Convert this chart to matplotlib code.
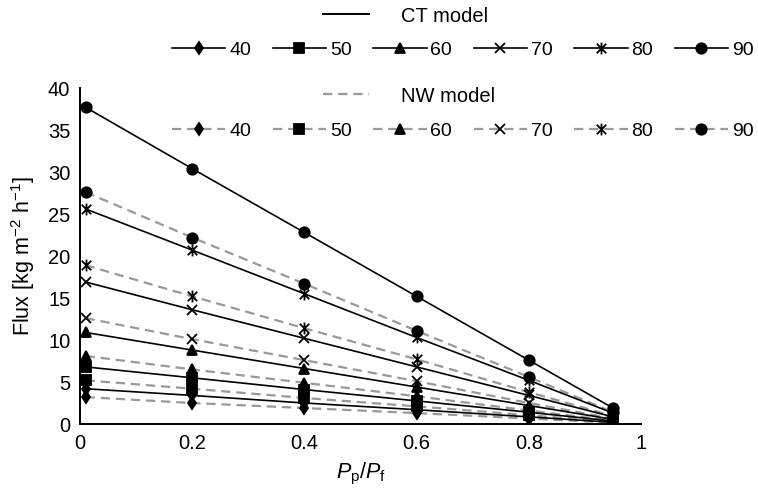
import matplotlib
matplotlib.use("Agg")
import matplotlib.pyplot as plt
from matplotlib.lines import Line2D
from matplotlib.path import Path

plt.rcParams['font.family'] = ['Liberation Sans', 'DejaVu Sans']
plt.rcParams['mathtext.fontset'] = 'custom'
plt.rcParams['mathtext.rm'] = 'Liberation Sans'
plt.rcParams['mathtext.it'] = 'Liberation Sans:italic'

# Pressure ratio Pp/Pf
pressure_ratio = [0.01, 0.2, 0.4, 0.6, 0.8, 0.95]
temperatures = ["40", "50", "60", "70", "80", "90"]

# Flux [kg m-2 h-1], CT model
ct_40 = [4.2, 3.4, 2.5, 1.7, 0.85, 0.2]
ct_50 = [6.8, 5.5, 4.1, 2.75, 1.4, 0.35]
ct_60 = [10.9, 8.8, 6.6, 4.4, 2.2, 0.55]
ct_70 = [16.9, 13.6, 10.2, 6.8, 3.4, 0.85]
ct_80 = [25.6, 20.7, 15.5, 10.3, 5.2, 1.3]
ct_90 = [37.7, 30.4, 22.8, 15.2, 7.6, 1.9]

# Flux [kg m-2 h-1], NW model
nw_40 = [3.2, 2.5, 1.9, 1.3, 0.65, 0.15]
nw_50 = [5.2, 4.2, 3.1, 2.1, 1.05, 0.25]
nw_60 = [8.1, 6.5, 4.9, 3.3, 1.6, 0.4]
nw_70 = [12.6, 10.1, 7.6, 5.1, 2.5, 0.65]
nw_80 = [18.9, 15.2, 11.4, 7.7, 3.8, 0.95]
nw_90 = [27.6, 22.2, 16.7, 11.1, 5.6, 1.4]

ct_series = [ct_40, ct_50, ct_60, ct_70, ct_80, ct_90]
nw_series = [nw_40, nw_50, nw_60, nw_70, nw_80, nw_90]

# asterisk marker: an x with a vertical stroke
asterisk = Path([(-1, -1), (1, 1), (-1, 1), (1, -1), (0, -1.25), (0, 1.25)],
                [Path.MOVETO, Path.LINETO, Path.MOVETO, Path.LINETO,
                 Path.MOVETO, Path.LINETO])
markers = ['d', 's', '^', 'x', asterisk, 'o']
msizes = [6, 6.5, 6.5, 7.5, 8.5, 7.5]

fig = plt.figure(figsize=(7.58, 4.90), dpi=100)
ax = fig.add_axes([80 / 758, 1 - 424 / 490, 561 / 758, 336 / 490])

GRAY = '#999999'
dash = (0, (4.2, 2.6))

ct_handles = []
nw_handles = []
for vals, m, ms in zip(nw_series, markers, msizes):
    h, = ax.plot(pressure_ratio, vals, color=GRAY, lw=1.6, linestyle=dash,
                 marker=m, ms=ms, mfc='black', mec='black', mew=1.3, zorder=2)
    nw_handles.append(h)
for vals, m, ms in zip(ct_series, markers, msizes):
    h, = ax.plot(pressure_ratio, vals, color='black', lw=1.2,
                 marker=m, ms=ms, mfc='black', mec='black', mew=1.3, zorder=3)
    ct_handles.append(h)

ax.set_xlim(0, 1.0)
ax.set_ylim(0, 40)
ax.set_xticks([0, 0.2, 0.4, 0.6, 0.8, 1])
ax.set_xticklabels(['0', '0.2', '0.4', '0.6', '0.8', '1'])
ax.set_yticks(range(0, 41, 5))
ax.tick_params(length=0, labelsize=14.5, pad=7)
for side in ['top', 'right']:
    ax.spines[side].set_visible(False)
for side in ['left', 'bottom']:
    ax.spines[side].set_linewidth(1.4)
ax.set_ylabel('Flux [kg m$^{-2}$ h$^{-1}$]', fontsize=15.5, labelpad=8)
ax.set_xlabel(r'$P_{\mathrm{p}}/P_{\mathrm{f}}$', fontsize=15.5, labelpad=6)

FS = 14
common = dict(frameon=False, borderpad=0, borderaxespad=0, fontsize=FS,
              loc='center left')

ct_head = Line2D([], [], color='black', lw=1.4)
nw_head = Line2D([], [], color=GRAY, lw=1.6, linestyle=dash)

leg1 = fig.legend([ct_head], ['CT model'], bbox_to_anchor=(323 / 758, 1 - 16 / 490),
                  handlelength=2.3, handletextpad=1.55, prop={'size': 14.5},
                  **{k: v for k, v in common.items() if k != 'fontsize'})
leg2 = fig.legend(ct_handles, temperatures, ncol=6,
                  bbox_to_anchor=(172 / 758, 1 - 50 / 490),
                  handlelength=2.75, handletextpad=0.2, columnspacing=1.1, **common)
leg3 = fig.legend([nw_head], ['NW model'], bbox_to_anchor=(323 / 758, 1 - 96 / 490),
                  handlelength=2.3, handletextpad=1.55, prop={'size': 14.5},
                  **{k: v for k, v in common.items() if k != 'fontsize'})
leg4 = fig.legend(nw_handles, temperatures, ncol=6,
                  bbox_to_anchor=(172 / 758, 1 - 131 / 490),
                  handlelength=2.75, handletextpad=0.2, columnspacing=1.1, **common)

fig.savefig('out.png', dpi=100)
